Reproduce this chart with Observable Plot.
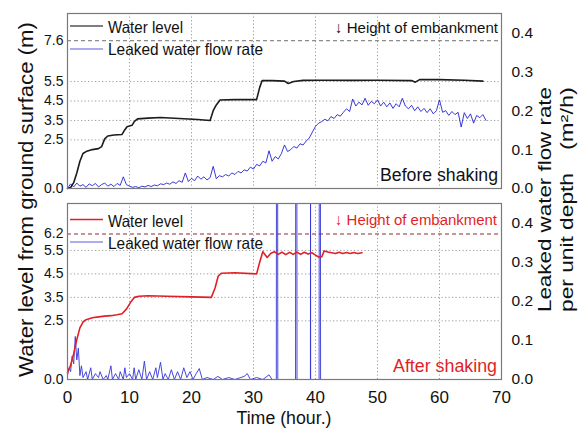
<!DOCTYPE html>
<html>
<head>
<meta charset="utf-8">
<script src="https://cdn.jsdelivr.net/npm/d3@7"></script>
<script src="https://cdn.jsdelivr.net/npm/@observablehq/plot@0.6"></script>
<style>
  body { margin: 0; background: #fff; }
  #wrap { position: relative; width: 580px; height: 428px; overflow: hidden; font-family: "Liberation Sans", Arial, sans-serif; }
  #wrap > .p { position: absolute; left: 0; }
  #overlay { position: absolute; left: 0; top: 0; pointer-events: none; }
</style>
</head>
<body>
<div id="wrap"></div>
<script>
// ---------- data ----------
const xTicks = [0, 10, 20, 30, 40, 50, 60, 70];
const xGrid = [10, 20, 30, 40, 50, 60];
const leftTicksTop = [0, 2.5, 3.5, 4.5, 5.5, 7.6];
const leftTicksBot = [0, 2.5, 3.5, 4.5, 5.5, 6.2];
const levelGrid = [2.5, 3.5, 4.5, 5.5];
const rightTicks = [0, 0.1, 0.2, 0.3, 0.4];
const embankTop = 7.6;
const embankBot = 6.2;
const yMaxTop = 9.0;     // m
const yMaxBot = 7.5;     // m
const flowMax = 0.45;    // m2/h

// Before shaking: water level (m)
const levelTopT = [0, 0.5, 1.0, 1.5, 2.0, 2.5, 3.0, 4.0, 5.0, 5.5, 6.0, 6.5, 7.5, 8.8, 9.2, 9.6, 10.4, 10.8, 11.3, 13, 15, 18, 21, 23.0, 23.5, 24.0, 24.6, 27, 30.5, 31.0, 31.4, 33, 35, 35.6, 36.5, 38, 41, 46, 50, 55.5, 56.1, 56.8, 60, 64, 67];
const levelTopV = [0, 0.05, 0.3, 0.8, 1.4, 1.8, 1.9, 2.0, 2.05, 2.15, 2.55, 2.7, 2.75, 2.78, 3.0, 3.18, 3.25, 3.45, 3.58, 3.62, 3.65, 3.6, 3.55, 3.5, 4.0, 4.3, 4.55, 4.57, 4.57, 5.2, 5.55, 5.55, 5.52, 5.4, 5.5, 5.56, 5.57, 5.56, 5.57, 5.55, 5.47, 5.6, 5.6, 5.57, 5.52];

// Before shaking: leaked water flow rate (m2/h), sampled every 0.5 h from t = 0
const flowTopStep = 0.5;
const flowTopV = [
  0.000, 0.012, 0.004, 0.014, 0.006, 0.010, 0.003, 0.012, 0.007, 0.013,
  0.004, 0.010, 0.014, 0.006, 0.011, 0.005, 0.013, 0.008, 0.030, 0.010,
  0.006, 0.003, 0.005, 0.002, 0.006, 0.004, 0.008, 0.005, 0.009, 0.007,
  0.012, 0.010, 0.014, 0.011, 0.017, 0.013, 0.020, 0.016, 0.040, 0.018,
  0.026, 0.020, 0.032, 0.024, 0.030, 0.022, 0.028, 0.057, 0.025, 0.033,
  0.030, 0.036, 0.032, 0.040, 0.036, 0.044, 0.040, 0.048, 0.045, 0.055,
  0.050, 0.062, 0.058, 0.070, 0.066, 0.097, 0.070, 0.082, 0.076, 0.090,
  0.112, 0.095, 0.100, 0.108, 0.104, 0.115, 0.112, 0.122, 0.130, 0.145,
  0.160, 0.168, 0.172, 0.178, 0.174, 0.185, 0.180, 0.190, 0.186, 0.196,
  0.205, 0.198, 0.230, 0.212, 0.222, 0.215, 0.232, 0.214, 0.224, 0.218,
  0.228, 0.212, 0.222, 0.210, 0.220, 0.206, 0.218, 0.210, 0.232, 0.212,
  0.205, 0.214, 0.200, 0.210, 0.198, 0.206, 0.195, 0.205, 0.192, 0.200,
  0.228, 0.196, 0.200, 0.188, 0.198, 0.190, 0.196, 0.158, 0.195, 0.180,
  0.192, 0.168, 0.188, 0.182, 0.190, 0.175
];

// After shaking: water level (m)
const levelBotT = [0, 0.5, 1.0, 1.5, 2.0, 2.5, 3.0, 4.0, 5.0, 6.0, 7.0, 8.0, 8.8, 9.5, 10.2, 10.8, 11.5, 13, 16, 20, 23.2, 23.8, 24.3, 24.8, 27, 30.5, 31.0, 31.5, 32.2, 32.8, 33.4, 34.0, 34.6, 35.2, 35.8, 36.4, 37.0, 37.6, 38.2, 38.8, 39.4, 40.0, 40.5, 41.0, 41.4, 42.0, 42.6, 43.2, 43.8, 44.4, 45.0, 45.6, 46.2, 46.8, 47.5];
const levelBotV = [0.3, 0.6, 1.1, 1.7, 2.2, 2.45, 2.55, 2.63, 2.67, 2.7, 2.72, 2.76, 2.8, 3.0, 3.3, 3.5, 3.55, 3.57, 3.55, 3.52, 3.5, 3.9, 4.4, 4.53, 4.55, 4.5, 5.0, 5.45, 5.2, 5.38, 5.44, 5.33, 5.43, 5.32, 5.42, 5.33, 5.43, 5.33, 5.42, 5.35, 5.4, 5.3, 5.22, 5.22, 5.48, 5.43, 5.4, 5.37, 5.42, 5.37, 5.41, 5.37, 5.41, 5.37, 5.4];

// After shaking: leaked water flow rate (m2/h); four bursts run far off the scale
const flowBotT = [0, 0.25, 0.5, 0.75, 1.0, 1.25, 1.5, 1.75, 2.0, 2.25, 2.5, 3.0, 3.25, 3.75, 4.0, 4.5, 5.0, 5.25, 5.75, 6.25, 6.5, 7.0, 7.25, 7.75, 8.25, 8.5, 9.0, 9.25, 9.5, 10.0, 10.5, 10.75, 11.0, 11.5, 12.0, 12.4, 12.75, 13.25, 13.75, 14.25, 14.5, 15.0, 15.4, 15.75, 16.25, 16.75, 17.25, 17.75, 18.25, 18.75, 19.25, 19.75, 20.25, 20.75, 21.25, 21.75, 22.5, 23.5, 24.25, 25.0, 26.0, 27.0, 28.5, 29.0, 29.5, 30.5, 31.5, 32.5, 33.0, 33.68, 33.7, 33.9, 33.92, 34.5, 36.78, 36.8, 37.0, 37.02, 39.18, 39.2, 39.22, 40.58, 40.6, 40.8, 40.82, 41.0];
const flowBotV = [0.01, 0.03, 0.02, 0.06, 0.04, 0.11, 0.05, 0.08, 0.01, 0.035, 0.005, 0.02, 0.0, 0.03, 0.0, 0.015, 0.005, 0.02, 0.0, 0.01, 0.0, 0.035, 0.0, 0.015, 0.0, 0.02, 0.0, 0.03, 0.005, 0.015, 0.0, 0.03, 0.0, 0.025, 0.0, 0.047, 0.0, 0.02, 0.0, 0.03, 0.005, 0.044, 0.0, 0.015, 0.0, 0.025, 0.0, 0.02, 0.0, 0.03, 0.005, 0.02, 0.0, 0.015, 0.028, 0.0, 0.005, 0.0, 0.008, 0.0, 0.005, 0.0, 0.008, 0.015, 0.0, 0.005, 0.0, 0.012, 0.0, 0.0, 2.0, 2.0, 0.0, 0.0, 0.0, 2.0, 2.0, 0.0, 0.0, 2.0, 0.0, 0.0, 2.0, 2.0, 0.0, 0.0];

// ---------- colours ----------
const BLUE = "#2424d6";
const BLACK = "#1c1c1c";
const RED = "#e11f26";
const GRID = "#9a9a9a";

const levelTop = levelTopT.map((t, i) => ({t, v: levelTopV[i]}));
const flowTop = flowTopV.map((v, i) => ({t: i * flowTopStep, v}));
const levelBot = levelBotT.map((t, i) => ({t, v: levelBotV[i]}));
const flowBot = flowBotT.map((t, i) => ({t, v: flowBotV[i]}));

function panel(o) {
  const k = o.yMax / flowMax;
  return Plot.plot({
    width: 580,
    height: o.height,
    marginLeft: 67,
    marginRight: 79,
    marginTop: o.mt,
    marginBottom: o.mb,
    style: {fontFamily: "'Liberation Sans', Arial, sans-serif", fontSize: "14px", background: "transparent", overflow: "visible"},
    x: {domain: [0, 70], axis: null},
    y: {domain: [0, o.yMax], axis: null, clamp: true},
    marks: [
      Plot.gridX(xGrid, {stroke: GRID, strokeOpacity: 1, strokeDasharray: "1.2,2.3"}),
      Plot.gridY(levelGrid, {stroke: GRID, strokeOpacity: 1, strokeDasharray: "1.2,2.3"}),
      Plot.ruleY([o.embank], {stroke: o.embankColor, strokeDasharray: "4,3", strokeWidth: 1}),
      Plot.axisY(o.leftTicks, {anchor: "left", tickSize: 0, tickPadding: 4, tickFormat: d => d.toFixed(1), fontSize: 14, label: null, fill: "#111"}),
      Plot.axisY(rightTicks.map(d => d * k), {anchor: "right", tickSize: 0, tickPadding: 10, tickFormat: d => (d / k).toFixed(1), fontSize: 15.5, label: null, fill: "#111"}),
      o.showX ? Plot.axisX(xTicks, {anchor: "bottom", tickSize: 0, tickPadding: 11, fontSize: 17, label: null, fill: "#111"}) : null,
      Plot.line(o.flow, {x: "t", y: d => d.v * k, stroke: o.flowColor, strokeWidth: 0.9}),
      Plot.line(o.level, {x: "t", y: "v", stroke: o.levelColor, strokeWidth: 1.6}),
      Plot.frame({stroke: "#7a7a7a", strokeWidth: 1.2})
    ]
  });
}

const wrap = document.getElementById("wrap");

const topPlot = panel({level: levelTop, flow: flowTop, levelColor: BLACK, flowColor: BLUE, yMax: yMaxTop, leftTicks: leftTicksTop,
  embank: embankTop, embankColor: "#6e6e6e", showX: false, height: 195, mt: 13, mb: 7});
topPlot.classList.add("p");
topPlot.style.top = "0px";
wrap.appendChild(topPlot);

const botPlot = panel({level: levelBot, flow: flowBot, levelColor: RED, flowColor: "#3434d8", yMax: yMaxBot, leftTicks: leftTicksBot,
  embank: embankBot, embankColor: "#8c2b33", showX: true, height: 233, mt: 8, mb: 49});
botPlot.classList.add("p");
botPlot.style.top = "195px";
wrap.appendChild(botPlot);

// ---------- titles, legends, annotations ----------
const NS = "http://www.w3.org/2000/svg";
const ov = document.createElementNS(NS, "svg");
ov.setAttribute("id", "overlay");
ov.setAttribute("width", 580);
ov.setAttribute("height", 428);
wrap.appendChild(ov);

function txt(s, x, y, opt = {}) {
  const t = document.createElementNS(NS, "text");
  t.textContent = s;
  t.setAttribute("x", 0);
  t.setAttribute("y", 0);
  t.setAttribute("transform", `translate(${x},${y})` + (opt.rot ? ` rotate(${opt.rot})` : ""));
  t.setAttribute("font-family", "'Liberation Sans', Arial, sans-serif");
  t.setAttribute("font-size", opt.size || 16);
  t.setAttribute("fill", opt.fill || "#111");
  t.setAttribute("text-anchor", opt.anchor || "start");
  if (opt.len) { t.setAttribute("textLength", opt.len); t.setAttribute("lengthAdjust", "spacingAndGlyphs"); }
  ov.appendChild(t);
}
function seg(x1, y, x2, stroke, w) {
  const l = document.createElementNS(NS, "line");
  l.setAttribute("x1", x1); l.setAttribute("x2", x2);
  l.setAttribute("y1", y); l.setAttribute("y2", y);
  l.setAttribute("stroke", stroke); l.setAttribute("stroke-width", w);
  ov.appendChild(l);
}

// top legend
seg(70, 26, 103, "#555", 1.5);
txt("Water level", 108, 33, {size: 16.5, len: 75});
seg(70, 49, 103, "#5a5ae0", 1.1);
txt("Leaked water flow rate", 108, 55, {size: 16.5, len: 155});
txt("\u2193 Height of embankment", 335, 33, {size: 15.5, len: 163});
txt("Before shaking", 380, 181, {size: 17.5, len: 118});

// bottom legend
seg(70, 219.5, 103, RED, 1.5);
txt("Water level", 108, 226.5, {size: 16.5, len: 75});
seg(70, 242, 103, "#5a5ae0", 1.1);
txt("Leaked water flow rate", 108, 249, {size: 16.5, len: 155});
txt("\u2193 Height of embankment", 335, 225, {size: 15.5, len: 162, fill: RED});
txt("After shaking", 393, 371.5, {size: 17.5, len: 104, fill: RED});

// axis titles
txt("Water level from ground surface (m)", 33, 377, {size: 21, rot: -90, len: 355});
txt("Leaked water flow rate", 551, 312, {size: 18, rot: -90, len: 225});
txt("per unit depth", 573, 312, {size: 18, rot: -90, len: 139});
txt("(m\u00B2/h)", 573, 150, {size: 18, rot: -90, len: 63});
txt("Time (hour.)", 284, 424, {size: 17.5, anchor: "middle", len: 95});
</script>
</body>
</html>
